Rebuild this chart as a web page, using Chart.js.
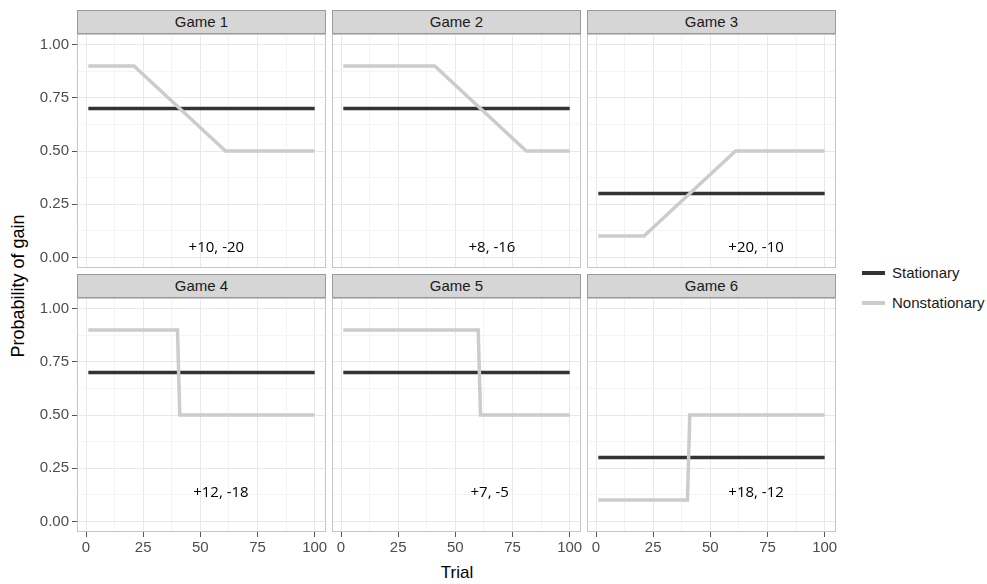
<!DOCTYPE html>
<html>
<head>
<meta charset="utf-8">
<script src="https://cdn.jsdelivr.net/npm/chart.js@4.4.1/dist/chart.umd.min.js"></script>
<style>
  body { margin: 0; background: #fff; }
  #wrap { position: relative; width: 987px; height: 584px; font-family: "Liberation Sans", Arial, sans-serif; overflow: hidden; }
  #wrap canvas { position: absolute; }
  .strip { position: absolute; box-sizing: border-box; height: 24px; background: #d6d6d6; border: 1px solid #9a9a9a;
           text-align: center; line-height: 22px; font-size: 15px; color: #1a1a1a; }
  .title { position: absolute; transform: translate(-50%, -50%); font-size: 17px; color: #000; white-space: nowrap; }
  .ytitle { font-size: 18px; transform: translate(-50%, -50%) rotate(-90deg); }
  .key { position: absolute; font-size: 15px; color: #1a1a1a; line-height: 16px; white-space: nowrap; }
  .key span { display: inline-block; width: 23px; height: 4px; vertical-align: middle; margin-right: 7px; position: relative; top: -1px; }
</style>
</head>
<body>
<div id="wrap">
  <div class="title ytitle" style="left:18px; top:286px;">Probability of gain</div>
  <div class="title" style="left:457px; top:573px;">Trial</div>
  <div class="key" style="left:862px; top:265px;"><span style="background:#333;"></span>Stationary</div>
  <div class="key" style="left:862px; top:295px;"><span style="background:#cccccc;"></span>Nonstationary</div>
</div>
<script>
const games = ['Game 1', 'Game 2', 'Game 3', 'Game 4', 'Game 5', 'Game 6'];

// stationary option: same probability on every trial
const stationaryTrials = [1, 100];
const stationaryProb = [
  [0.7, 0.7], [0.7, 0.7], [0.3, 0.3],
  [0.7, 0.7], [0.7, 0.7], [0.3, 0.3]
];

// nonstationary option: breakpoints of the schedule
const nonstatTrials = [
  [1, 21, 61, 100],
  [1, 41, 81, 100],
  [1, 21, 61, 100],
  [1, 40, 41, 100],
  [1, 60, 61, 100],
  [1, 40, 41, 100]
];
const nonstatProb = [
  [0.9, 0.9, 0.5, 0.5],
  [0.9, 0.9, 0.5, 0.5],
  [0.1, 0.1, 0.5, 0.5],
  [0.9, 0.9, 0.5, 0.5],
  [0.9, 0.9, 0.5, 0.5],
  [0.1, 0.1, 0.5, 0.5]
];

const payoffs = ['+10, -20', '+8, -16', '+20, -10', '+12, -18', '+7, -5', '+18, -12'];
const payoffTrial = [57, 66, 70, 59, 65, 70];
const payoffProb = [0.045, 0.045, 0.045, 0.135, 0.135, 0.135];

const xTicks = [0, 25, 50, 75, 100];
const yTicks = [0, 0.25, 0.5, 0.75, 1];

// facet geometry
const plotW = 249, plotH = 234, stripH = 24, pad = 2;
const colX = [77, 332, 587];
const rowY = [34, 298];
const yAxisW = 48, xAxisH = 26;

const tickFont = { family: '"Liberation Sans", Arial, sans-serif', size: 15 };

function withMinor(ticks) {
  const out = [];
  ticks.forEach((v, i) => {
    out.push({ value: v });
    if (i < ticks.length - 1) out.push({ value: (v + ticks[i + 1]) / 2, minor: true });
  });
  return out;
}

const gridColor = c => (c.tick && c.tick.minor) ? '#f4f4f4' : '#e8e8e8';

const panelBox = {
  id: 'panelBox',
  afterDraw(chart) {
    const a = chart.chartArea, ctx = chart.ctx;
    ctx.save();
    ctx.strokeStyle = '#c6c6c6';
    ctx.lineWidth = 1;
    ctx.strokeRect(a.left + 0.5, a.top + 0.5, a.right - a.left - 1, a.bottom - a.top - 1);
    ctx.restore();
  }
};

const payoffText = {
  id: 'payoffText',
  afterDatasetsDraw(chart, args, opts) {
    const ctx = chart.ctx;
    ctx.save();
    ctx.font = '15px "Open Sans", sans-serif';
    ctx.fillStyle = '#000';
    ctx.textAlign = 'center';
    ctx.textBaseline = 'middle';
    ctx.fillText(opts.text, chart.scales.x.getPixelForValue(opts.x), chart.scales.y.getPixelForValue(opts.y));
    ctx.restore();
  }
};

const wrap = document.getElementById('wrap');

games.forEach((name, g) => {
  const col = g % 3, row = Math.floor(g / 3);
  const showY = col === 0, showX = row === 1;
  const axW = showY ? yAxisW : 0, axH = showX ? xAxisH : 0;

  const strip = document.createElement('div');
  strip.className = 'strip';
  strip.style.left = colX[col] + 'px';
  strip.style.top = (rowY[row] - stripH) + 'px';
  strip.style.width = plotW + 'px';
  strip.textContent = name;
  wrap.appendChild(strip);

  const canvas = document.createElement('canvas');
  canvas.width = plotW + axW + 2 * pad;
  canvas.height = plotH + axH + 2 * pad;
  canvas.style.left = (colX[col] - axW - pad) + 'px';
  canvas.style.top = (rowY[row] - pad) + 'px';
  wrap.appendChild(canvas);

  new Chart(canvas, {
    type: 'line',
    data: {
      datasets: [
        {
          label: 'Stationary',
          data: stationaryTrials.map((t, i) => ({ x: t, y: stationaryProb[g][i] })),
          borderColor: '#333333',
          borderWidth: 3.5,
          order: 2
        },
        {
          label: 'Nonstationary',
          data: nonstatTrials[g].map((t, i) => ({ x: t, y: nonstatProb[g][i] })),
          borderColor: '#cccccc',
          borderWidth: 3.5,
          order: 1
        }
      ]
    },
    options: {
      responsive: false,
      animation: false,
      devicePixelRatio: 1,
      layout: { padding: pad },
      elements: { point: { radius: 0 }, line: { tension: 0, borderCapStyle: 'butt' } },
      plugins: {
        legend: { display: false },
        tooltip: { enabled: false },
        payoffText: { text: payoffs[g], x: payoffTrial[g], y: payoffProb[g] }
      },
      scales: {
        x: {
          type: 'linear',
          min: -3.95,
          max: 104.95,
          afterBuildTicks: s => { s.ticks = withMinor(xTicks); },
          afterFit: s => { s.height = axH; s.paddingLeft = 0; s.paddingRight = 0; },
          border: { display: false },
          grid: {
            color: gridColor,
            drawTicks: showX,
            tickLength: 5,
            tickColor: c => (c.tick && c.tick.minor) ? 'rgba(0,0,0,0)' : '#555'
          },
          ticks: {
            display: showX,
            autoSkip: false,
            maxRotation: 0,
            padding: 2,
            color: '#4d4d4d',
            font: tickFont,
            callback: (v, i, t) => t[i].minor ? '' : String(v)
          }
        },
        y: {
          min: -0.05,
          max: 1.05,
          afterBuildTicks: s => { s.ticks = withMinor(yTicks); },
          afterFit: s => { s.width = axW; s.paddingTop = 0; s.paddingBottom = 0; },
          border: { display: false },
          grid: {
            color: gridColor,
            drawTicks: showY,
            tickLength: 5,
            tickColor: c => (c.tick && c.tick.minor) ? 'rgba(0,0,0,0)' : '#555'
          },
          ticks: {
            display: showY,
            autoSkip: false,
            padding: 3,
            color: '#4d4d4d',
            font: tickFont,
            callback: (v, i, t) => t[i].minor ? '' : v.toFixed(2)
          }
        }
      }
    },
    plugins: [panelBox, payoffText]
  });
});
</script>
</body>
</html>
